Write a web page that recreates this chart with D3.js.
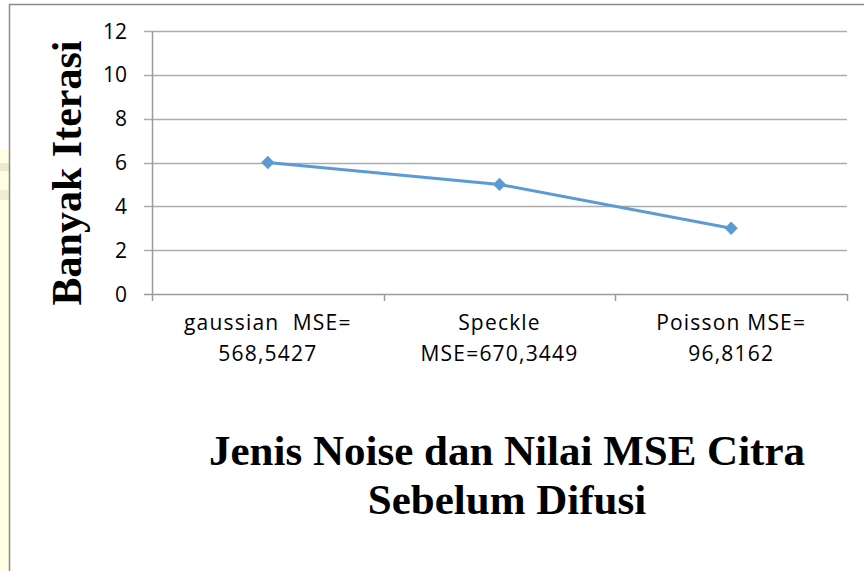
<!DOCTYPE html>
<html>
<head>
<meta charset="utf-8">
<script src="https://cdn.jsdelivr.net/npm/d3@7"></script>
<style>
	body { margin: 0; background: #fff; }
	svg { display: block; }
	.cat { font-family: "Open Sans", sans-serif; font-size: 21px; letter-spacing: 1.2px; fill: #000; white-space: pre; }
	.tick-label { font-family: "Open Sans", sans-serif; font-size: 21px; fill: #000; }
	.title { font-family: "Liberation Serif", "Times New Roman", serif; font-weight: bold; font-size: 43px; fill: #000; }
</style>
</head>
<body>
<div id="chart"></div>
<script>
// chart data
var categories = ["gaussian", "speckle", "poisson"];
var categoryLines = [["gaussian  MSE=", "568,5427"], ["Speckle", "MSE=670,3449"], ["Poisson MSE=", "96,8162"]];
var iterations = [6, 5, 3];
var yTicks = [0, 2, 4, 6, 8, 10, 12];
var titleLines = ["Jenis Noise dan Nilai MSE Citra", "Sebelum Difusi"];
var yTitle = "Banyak Iterasi";

var W = 864, H = 571;
var margin = {top: 31, right: 17, bottom: 277, left: 152};

var svg = d3.select("#chart").append("svg")
	.attr("width", W)
	.attr("height", H);

// faint watermark strip on the left edge
svg.append("rect").attr("x", 0).attr("y", 150).attr("width", 9).attr("height", 421).attr("fill", "#fffde2");
svg.append("rect").attr("x", 0).attr("y", 163).attr("width", 9).attr("height", 8).attr("fill", "#ece7cf");
svg.append("rect").attr("x", 0).attr("y", 190).attr("width", 9).attr("height", 10).attr("fill", "#f2eed6");

// chart area border
svg.append("rect")
	.attr("x", 9.5).attr("y", 4.5)
	.attr("width", W + 10).attr("height", H + 10)
	.attr("fill", "none")
	.attr("stroke", "#8a8a8a")
	.attr("stroke-width", 1.5);

var x = d3.scaleBand().domain(categories).range([margin.left, W - margin.right]);
var y = d3.scaleLinear().domain([0, 12]).range([H - margin.bottom, margin.top]);

var g = svg.append("g");

// horizontal gridlines (with the little outside tick on the left)
g.selectAll("line.grid")
	.data(yTicks)
	.enter().append("line")
		.attr("class", "grid")
		.attr("x1", margin.left - 8)
		.attr("x2", W - margin.right)
		.attr("y1", function(d) { return Math.round(y(d)) + 0.5; })
		.attr("y2", function(d) { return Math.round(y(d)) + 0.5; })
		.attr("stroke", function(d) { return d === 0 ? "#9a9a9a" : "#acacac"; })
		.attr("stroke-width", 1.5);

// y axis line
g.append("line")
	.attr("x1", margin.left + 0.5).attr("x2", margin.left + 0.5)
	.attr("y1", y(12)).attr("y2", y(0) + 7)
	.attr("stroke", "#9a9a9a")
	.attr("stroke-width", 1.5);

// x ticks at band edges
var edges = categories.map(function(c) { return x(c); }).concat([x.range()[1]]);
g.selectAll("line.xtick")
	.data(edges.slice(1))
	.enter().append("line")
		.attr("class", "xtick")
		.attr("x1", function(d) { return Math.round(d) + 0.5; })
		.attr("x2", function(d) { return Math.round(d) + 0.5; })
		.attr("y1", y(0))
		.attr("y2", y(0) + 7)
		.attr("stroke", "#9a9a9a")
		.attr("stroke-width", 1.5);

// y tick labels
g.selectAll("text.tick-label")
	.data(yTicks)
	.enter().append("text")
		.attr("class", "tick-label")
		.attr("x", 127)
		.attr("y", function(d) { return y(d); })
		.attr("dy", "0.36em")
		.attr("text-anchor", "end")
		.text(function(d) { return d; });

// category labels, two lines each
var cat = g.selectAll("text.cat")
	.data(categories)
	.enter().append("text")
		.attr("class", "cat")
		.attr("text-anchor", "middle")
		.attr("x", function(d) { return x(d) + x.bandwidth() / 2; })
		.attr("y", 330);
cat.each(function(d, i) {
	var t = d3.select(this);
	categoryLines[i].forEach(function(s, j) {
		t.append("tspan")
			.attr("x", x(d) + x.bandwidth() / 2)
			.attr("y", 330 + j * 31)
			.text(s);
	});
});

// the series line
var line = d3.line()
	.x(function(d, i) { return x(categories[i]) + x.bandwidth() / 2; })
	.y(function(d) { return y(d); });

g.append("path")
	.datum(iterations)
	.attr("d", line)
	.attr("fill", "none")
	.attr("stroke", "#5b9bd5")
	.attr("stroke-width", 3)
	.attr("stroke-linejoin", "round");

g.selectAll("path.marker")
	.data(iterations)
	.enter().append("path")
		.attr("class", "marker")
		.attr("d", d3.symbol().type(d3.symbolSquare).size(88))
		.attr("transform", function(d, i) {
			return "translate(" + (x(categories[i]) + x.bandwidth() / 2) + "," + y(d) + ") rotate(45)";
		})
		.attr("fill", "#5b9bd5");

// axis titles
svg.append("text")
	.attr("class", "title")
	.attr("text-anchor", "middle")
	.attr("transform", "translate(81," + 173 + ") rotate(-90)")
	.style("font-size", "42px")
	.text(yTitle);

svg.selectAll("text.xtitle")
	.data(titleLines)
	.enter().append("text")
		.attr("class", "title xtitle")
		.attr("text-anchor", "middle")
		.attr("x", 507)
		.attr("y", function(d, i) { return 465 + i * 49; })
		.text(function(d) { return d; });
</script>
</body>
</html>
